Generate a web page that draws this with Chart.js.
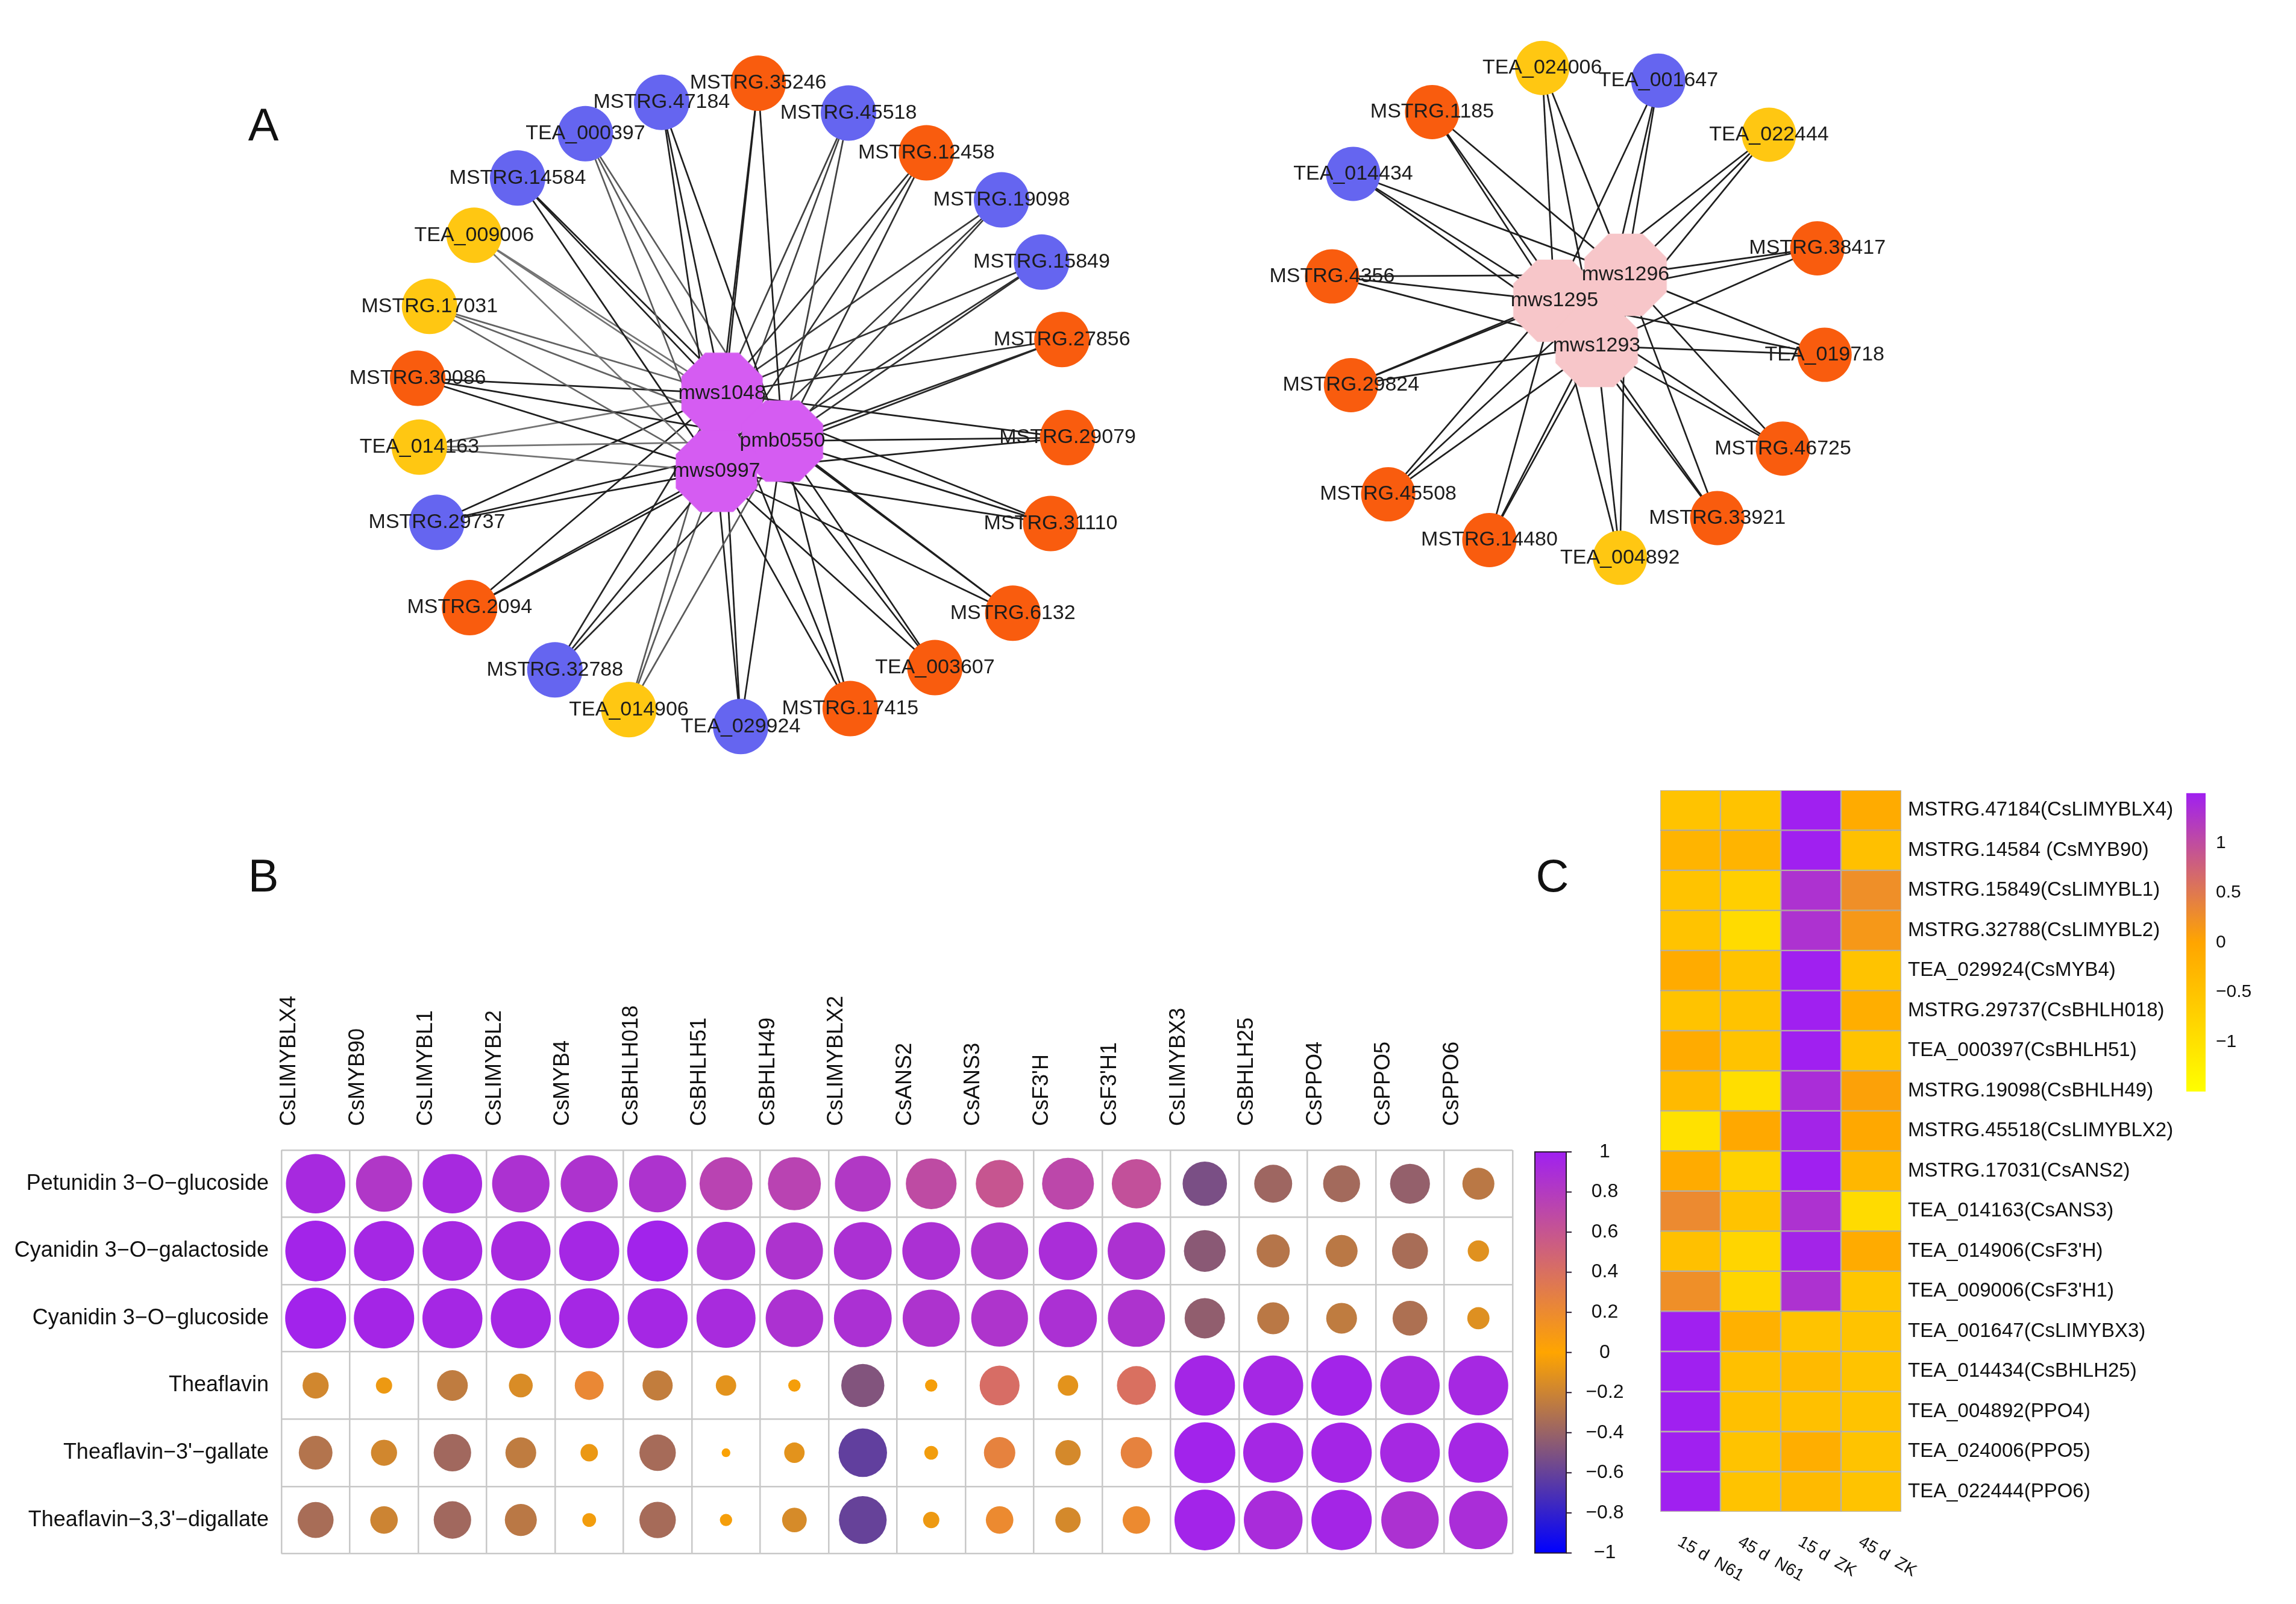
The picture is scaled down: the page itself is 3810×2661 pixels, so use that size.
<!DOCTYPE html>
<html lang="en">
<head>
<meta charset="UTF-8">
<title>Networks, correlation and expression heatmap</title>
<script src="https://cdn.jsdelivr.net/npm/chart.js@4.4.3/dist/chart.umd.min.js"></script>
<style>
    body { margin: 0; background: #fff; width: 3810px; height: 2661px; position: relative; overflow: hidden;
           font-family: 'Liberation Sans', Arial, sans-serif; }
    canvas { position: absolute; }
    .tag { position: absolute; font-size: 76px; line-height: 1; color: #111; transform: translate(-50%, -50%); }
</style>
</head>
<body>
<canvas id="netLeft" width="1460" height="1320" style="left:500px;top:0"></canvas>
<canvas id="netRight" width="1160" height="1060" style="left:2040px;top:0"></canvas>
<canvas id="corrChart" width="2740" height="1020" style="left:0;top:1600px"></canvas>
<canvas id="heatChart" width="1070" height="1381" style="left:2740px;top:1280px"></canvas>
<div class="tag" style="left:437px;top:207px">A</div>
<div class="tag" style="left:437px;top:1453px">B</div>
<div class="tag" style="left:2576px;top:1453px">C</div>
<script>
// ---- panel A: layout coordinates of the two networks (units relative to each network centre)
const leftHubs = ['mws1048', 'pmb0550', 'mws0997'];
const leftHubX = [-3.4, 7.3, -4.4];
const leftHubY = [-2.8, 5.7, 11.1];
const leftGenes = ['MSTRG.35246', 'MSTRG.47184', 'MSTRG.45518', 'TEA_000397', 'MSTRG.12458', 'MSTRG.14584',
    'MSTRG.19098', 'TEA_009006', 'MSTRG.15849', 'MSTRG.17031', 'MSTRG.27856', 'MSTRG.30086', 'MSTRG.29079',
    'TEA_014163', 'MSTRG.29737', 'MSTRG.31110', 'MSTRG.2094', 'MSTRG.6132', 'MSTRG.32788', 'TEA_003607',
    'TEA_014906', 'MSTRG.17415', 'TEA_029924'];
const leftGeneX = [3.0, -14.1, 19.0, -27.6, 32.8, -39.6, 46.1, -47.3, 53.2, -55.2, 56.8, -57.3, 57.8,
    -57.0, -53.9, 54.8, -48.1, 48.1, -33.0, 34.3, -19.9, 19.3, -0.1];
const leftGeneY = [-58.1, -54.7, -52.8, -49.1, -45.7, -41.2, -37.3, -31.0, -26.2, -18.3, -12.4, -5.5, 5.1,
    6.8, 20.2, 20.4, 35.4, 36.4, 46.5, 46.1, 53.6, 53.4, 56.6];
const leftGeneType = ['o', 'b', 'b', 'b', 'o', 'b', 'b', 'y', 'b', 'y', 'o', 'o', 'o',
    'y', 'b', 'o', 'o', 'o', 'b', 'o', 'y', 'o', 'b'];
const leftEdgeStrength = [1, 1, 0.8, 0.65, 0.9, 1, 0.85, 0.5, 0.9, 0.6, 0.95, 1, 1,
    0.5, 1, 1, 1, 1, 0.95, 1, 0.65, 1, 1];

const rightHubs = ['mws1296', 'mws1295', 'mws1293'];
const rightHubX = [8.4, -4.4, 3.2];
const rightHubY = [-7.1, -2.4, 5.8];
const rightGenes = ['TEA_024006', 'TEA_001647', 'MSTRG.1185', 'TEA_022444', 'TEA_014434', 'MSTRG.38417',
    'MSTRG.4356', 'TEA_019718', 'MSTRG.29824', 'MSTRG.46725', 'MSTRG.45508', 'MSTRG.33921', 'MSTRG.14480',
    'TEA_004892'];
const rightGeneX = [-6.6, 14.3, -26.4, 34.2, -40.6, 42.9, -44.4, 44.2, -41.0, 36.7, -34.3, 24.9, -16.1, 7.4];
const rightGeneY = [-44.6, -42.3, -36.6, -32.5, -25.4, -11.9, -6.8, 7.4, 12.9, 24.4, 32.7, 37.0, 41.0, 44.2];
const rightGeneType = ['y', 'b', 'o', 'y', 'b', 'o', 'o', 'o', 'o', 'o', 'o', 'o', 'o', 'y'];
const rightEdgeStrength = [1, 1, 1, 1, 1, 1, 1, 1, 1, 1, 1, 1, 1, 1];

// ---- panel B: Pearson correlation, metabolite x gene
const corrGenes = ['CsLIMYBLX4', 'CsMYB90', 'CsLIMYBL1', 'CsLIMYBL2', 'CsMYB4', 'CsBHLH018', 'CsBHLH51',
    'CsBHLH49', 'CsLIMYBLX2', 'CsANS2', 'CsANS3', "CsF3'H", "CsF3'H1", 'CsLIMYBX3', 'CsBHLH25', 'CsPPO4',
    'CsPPO5', 'CsPPO6'];
const metabolites = ['Petunidin 3\u2212O\u2212glucoside', 'Cyanidin 3\u2212O\u2212galactoside',
    'Cyanidin 3\u2212O\u2212glucoside', 'Theaflavin', "Theaflavin\u22123'\u2212gallate",
    "Theaflavin\u22123,3'\u2212digallate"];
const petunidin3Glc = [0.93, 0.83, 0.93, 0.87, 0.86, 0.86, 0.74, 0.74, 0.82, 0.68, 0.6, 0.71, 0.64, -0.52, -0.38, -0.36, -0.42, -0.27];
const cyanidin3Gal = [0.97, 0.95, 0.94, 0.93, 0.95, 0.98, 0.9, 0.86, 0.88, 0.88, 0.86, 0.9, 0.87, -0.46, -0.29, -0.27, -0.34, -0.12];
const cyanidin3Glc = [0.98, 0.96, 0.95, 0.95, 0.95, 0.95, 0.92, 0.87, 0.88, 0.86, 0.85, 0.88, 0.86, -0.43, -0.27, -0.25, -0.32, -0.13];
const theaflavin = [-0.18, -0.07, -0.25, -0.15, 0.22, -0.24, -0.11, -0.04, -0.49, -0.04, 0.42, -0.11, 0.4, 0.96, 0.95, 0.97, 0.93, 0.94];
const theaflavin3G = [-0.3, -0.18, -0.37, -0.25, -0.08, -0.35, -0.02, -0.11, -0.62, -0.05, 0.26, -0.17, 0.26, 0.98, 0.95, 0.96, 0.94, 0.95];
const theaflavin33DG = [-0.34, -0.2, -0.37, -0.27, -0.05, -0.35, -0.04, -0.16, -0.6, -0.07, 0.2, -0.17, 0.2, 0.97, 0.91, 0.96, 0.87, 0.9];
const corrRows = [petunidin3Glc, cyanidin3Gal, cyanidin3Glc, theaflavin, theaflavin3G, theaflavin33DG];
const corrTicks = [1, 0.8, 0.6, 0.4, 0.2, 0, -0.2, -0.4, -0.6, -0.8, -1];

// ---- panel C: row-scaled expression
const heatRows = ['MSTRG.47184(CsLIMYBLX4)', 'MSTRG.14584 (CsMYB90)', 'MSTRG.15849(CsLIMYBL1)',
    'MSTRG.32788(CsLIMYBL2)', 'TEA_029924(CsMYB4)', 'MSTRG.29737(CsBHLH018)', 'TEA_000397(CsBHLH51)',
    'MSTRG.19098(CsBHLH49)', 'MSTRG.45518(CsLIMYBLX2)', 'MSTRG.17031(CsANS2)', 'TEA_014163(CsANS3)',
    "TEA_014906(CsF3'H)", "TEA_009006(CsF3'H1)", 'TEA_001647(CsLIMYBX3)', 'TEA_014434(CsBHLH25)',
    'TEA_004892(PPO4)', 'TEA_024006(PPO5)', 'TEA_022444(PPO6)'];
const heatSamples = ['15 d  N61', '45 d  N61', '15 d  ZK', '45 d  ZK'];
const d15N61 = [-0.5, -0.25, -0.5, -0.5, -0.1, -0.5, -0.1, -0.35, -1.0, -0.1, 0.3, -0.45, 0.25, 1.5, 1.5, 1.5, 1.5, 1.5];
const d45N61 = [-0.5, -0.25, -0.7, -0.9, -0.5, -0.5, -0.5, -0.95, -0.05, -0.75, -0.5, -0.8, -0.8, -0.2, -0.45, -0.45, -0.5, -0.5];
const d15ZK = [1.5, 1.5, 1.3, 1.3, 1.5, 1.5, 1.5, 1.35, 1.45, 1.5, 1.3, 1.45, 1.3, -0.5, -0.35, -0.45, -0.15, -0.35];
const d45ZK = [-0.1, -0.45, 0.25, 0.15, -0.5, -0.15, -0.5, 0.05, -0.05, -0.3, -0.9, -0.1, -0.55, -0.5, -0.5, -0.5, -0.5, -0.5];
const heatCols = [d15N61, d45N61, d15ZK, d45ZK];
const heatTicks = [1, 0.5, 0, -0.5, -1];

const FONT = "'Liberation Sans', Arial, sans-serif";
Chart.defaults.font.family = FONT;
Chart.defaults.color = '#111';

const BLUE = [0, 0, 255], ORANGE = [255, 165, 0], PURPLE = [160, 32, 240], YELLOW = [255, 255, 0];
const mix = (a, b, t) => a.map((v, k) => Math.round(v + (b[k] - v) * t));
const corrColor = v => 'rgb(' + (v < 0 ? mix(ORANGE, BLUE, -v) : mix(ORANGE, PURPLE, v)) + ')';
const heatColor = v => {
    const t = Math.max(-1, Math.min(1, v / 1.5));
    return 'rgb(' + (t < 0 ? mix(ORANGE, YELLOW, -t) : mix(ORANGE, PURPLE, t)) + ')';
};
const minus = v => String(v).replace('-', '\u2212');

const typeColor = { o: '#F95C0E', b: '#6565F0', y: '#FFC712' };

// octagon sprite for hub nodes
function octagon(r, fill) {
    const c = document.createElement('canvas');
    c.width = c.height = Math.ceil(2 * r);
    const g = c.getContext('2d');
    g.beginPath();
    for (let k = 0; k < 8; k++) {
        const a = Math.PI / 8 + k * Math.PI / 4;
        const px = r + r * Math.cos(a), py = r + r * Math.sin(a);
        if (k) g.lineTo(px, py); else g.moveTo(px, py);
    }
    g.closePath();
    g.fillStyle = fill;
    g.fill();
    return c;
}

// writes node names on top of everything
const nodeLabels = {
    id: 'nodeLabels',
    afterDatasetsDraw(chart) {
        const ctx = chart.ctx;
        ctx.save();
        ctx.font = '34px ' + FONT;
        ctx.fillStyle = '#1c1c1c';
        ctx.textAlign = 'center';
        ctx.textBaseline = 'middle';
        chart.data.datasets.forEach((ds, i) => {
            if (!ds.names) return;
            chart.getDatasetMeta(i).data.forEach((pt, k) => ctx.fillText(ds.names[k], pt.x, pt.y));
        });
        ctx.restore();
    }
};

function network(id, hubs, hubX, hubY, genes, geneX, geneY, types, strength, hubFill, hubR, geneR, range) {
    const datasets = [];
    genes.forEach((g, i) => {
        const shade = Math.round(30 + (1 - strength[i]) * 170);
        hubs.forEach((h, j) => datasets.push({
            data: [{ x: geneX[i], y: geneY[i] }, { x: hubX[j], y: hubY[j] }],
            showLine: true, pointRadius: 0, borderWidth: 2.7,
            borderColor: `rgb(${shade},${shade},${shade})`, order: 2
        }));
    });
    datasets.push({
        names: genes,
        data: genes.map((g, i) => ({ x: geneX[i], y: geneY[i] })),
        pointRadius: geneR, pointBackgroundColor: types.map(t => typeColor[t]),
        pointBorderWidth: 0, order: 1
    });
    datasets.push({
        names: hubs,
        data: hubs.map((h, j) => ({ x: hubX[j], y: hubY[j] })),
        pointStyle: octagon(hubR, hubFill), order: 0
    });
    return new Chart(document.getElementById(id), {
        type: 'scatter',
        data: { datasets },
        options: {
            responsive: false, animation: false, events: [],
            layout: { padding: 0 },
            plugins: { legend: { display: false }, tooltip: { enabled: false } },
            scales: {
                x: { type: 'linear', min: range[0], max: range[1], display: false },
                y: { type: 'linear', min: range[2], max: range[3], reverse: true, display: false }
            }
        },
        plugins: [nodeLabels]
    });
}

network('netLeft', leftHubs, leftHubX, leftHubY, leftGenes, leftGeneX, leftGeneY, leftGeneType,
    leftEdgeStrength, '#D55CF2', 73, 46, [-73, 73, -68, 64]);
network('netRight', rightHubs, rightHubX, rightHubY, rightGenes, rightGeneX, rightGeneY, rightGeneType,
    rightEdgeStrength, '#F7C6C9', 74, 45, [-58, 58, -52, 54]);

// ---- panel B
const isHalf = v => Math.abs(v - Math.floor(v) - 0.5) < 1e-6;
const gridColor = ctx => (ctx.tick && isHalf(ctx.tick.value)) ? '#c8c8c8' : 'rgba(0,0,0,0)';

const corrLegend = {
    id: 'corrLegend',
    afterDraw(chart) {
        const ctx = chart.ctx, a = chart.chartArea;
        const x0 = a.right + 37, w = 52, y0 = a.top + 3, y1 = a.bottom - 1;
        const grad = ctx.createLinearGradient(0, y0, 0, y1);
        grad.addColorStop(0, corrColor(1));
        grad.addColorStop(0.5, corrColor(0));
        grad.addColorStop(1, corrColor(-1));
        ctx.save();
        ctx.fillStyle = grad;
        ctx.fillRect(x0, y0, w, y1 - y0);
        ctx.strokeStyle = '#2a1a30';
        ctx.lineWidth = 2;
        ctx.strokeRect(x0, y0, w, y1 - y0);
        ctx.font = '32px ' + FONT;
        ctx.fillStyle = '#111';
        ctx.textAlign = 'center';
        ctx.textBaseline = 'middle';
        corrTicks.forEach(v => {
            const y = y0 + (1 - v) / 2 * (y1 - y0);
            ctx.beginPath();
            ctx.moveTo(x0 + w, y);
            ctx.lineTo(x0 + w + 9, y);
            ctx.stroke();
            ctx.fillText(minus(v), x0 + w + 64, y);
        });
        ctx.restore();
    }
};

// circle area follows |r|, as in corrplot
const corrRadius = ctx => {
    if (!ctx.raw) return 0;
    const xs = ctx.chart.scales.x;
    const cell = Math.abs(xs.getPixelForValue(1) - xs.getPixelForValue(0));
    return isFinite(cell) ? cell * 0.45 * Math.sqrt(Math.abs(ctx.raw.v)) : 0;
};

new Chart(document.getElementById('corrChart'), {
    type: 'scatter',
    data: {
        datasets: corrRows.map((row, i) => ({
            data: row.map((v, j) => ({ x: j + 1, y: i + 1, v })),
            pointBackgroundColor: ctx => ctx.raw ? corrColor(ctx.raw.v) : 'rgba(0,0,0,0)',
            pointBorderWidth: 0,
            pointRadius: corrRadius
        }))
    },
    options: {
        responsive: false, animation: false, events: [],
        layout: { padding: { left: 0, top: 0, right: 230, bottom: 27 } },
        plugins: { legend: { display: false }, tooltip: { enabled: false } },
        scales: {
            x: {
                type: 'linear', position: 'top', min: 0.5, max: corrGenes.length + 0.5,
                grid: { color: gridColor, lineWidth: 2.5, drawTicks: false },
                border: { display: false },
                ticks: {
                    stepSize: 0.5, autoSkip: false, minRotation: 90, maxRotation: 90, padding: 40,
                    font: { size: 36 },
                    callback: v => isHalf(v) ? '' : corrGenes[Math.round(v) - 1]
                },
                afterFit: s => { s.height = 308; }
            },
            y: {
                type: 'linear', min: 0.5, max: metabolites.length + 0.5, reverse: true,
                grid: { color: gridColor, lineWidth: 2.5, drawTicks: false },
                border: { display: false },
                ticks: {
                    stepSize: 0.5, autoSkip: false, padding: 21, font: { size: 36 },
                    callback: v => isHalf(v) ? '' : metabolites[Math.round(v) - 1]
                },
                afterFit: s => { s.width = 467; }
            }
        }
    },
    plugins: [corrLegend]
});

// ---- panel C
const heatExtras = {
    id: 'heatExtras',
    afterDraw(chart) {
        const ctx = chart.ctx, a = chart.chartArea, xs = chart.scales.x;
        ctx.save();
        // sample labels, slanted under the columns
        ctx.font = '28px ' + FONT;
        ctx.fillStyle = '#111';
        ctx.textAlign = 'left';
        ctx.textBaseline = 'top';
        heatSamples.forEach((s, c) => {
            ctx.save();
            ctx.translate(xs.getPixelForValue(c + 0.5) - 12, a.bottom + 36);
            ctx.rotate(Math.PI / 6);
            ctx.fillText(s, 0, 0);
            ctx.restore();
        });
        // colour key
        const x0 = a.right + 473, w = 32, y0 = a.top + 5, y1 = a.top + 500;
        const grad = ctx.createLinearGradient(0, y0, 0, y1);
        grad.addColorStop(0, heatColor(1.5));
        grad.addColorStop(0.5, heatColor(0));
        grad.addColorStop(1, heatColor(-1.5));
        ctx.fillStyle = grad;
        ctx.fillRect(x0, y0, w, y1 - y0);
        ctx.font = '30px ' + FONT;
        ctx.fillStyle = '#111';
        ctx.textBaseline = 'middle';
        heatTicks.forEach(v => ctx.fillText(minus(v), x0 + w + 17, y0 + (1.5 - v) / 3 * (y1 - y0)));
        ctx.restore();
    }
};

new Chart(document.getElementById('heatChart'), {
    type: 'bar',
    data: {
        labels: heatRows,
        datasets: heatCols.map((vals, c) => ({
            data: vals.map(() => [c, c + 1]),
            backgroundColor: vals.map(heatColor),
            borderColor: 'rgba(140,130,110,0.6)',
            borderWidth: 1.5,
            borderSkipped: false,
            barPercentage: 1,
            categoryPercentage: 1,
            grouped: false
        }))
    },
    options: {
        indexAxis: 'y',
        responsive: false, animation: false, events: [],
        layout: { padding: { left: 15, top: 30, right: 0, bottom: 153 } },
        plugins: { legend: { display: false }, tooltip: { enabled: false } },
        scales: {
            x: { type: 'linear', min: 0, max: heatSamples.length, display: false },
            y: {
                type: 'category', position: 'right',
                grid: { display: false, drawTicks: false },
                border: { display: false },
                ticks: { padding: 11, font: { size: 33 }, autoSkip: false },
                afterFit: s => { s.width = 655; }
            }
        }
    },
    plugins: [heatExtras]
});
</script>
</body>
</html>
